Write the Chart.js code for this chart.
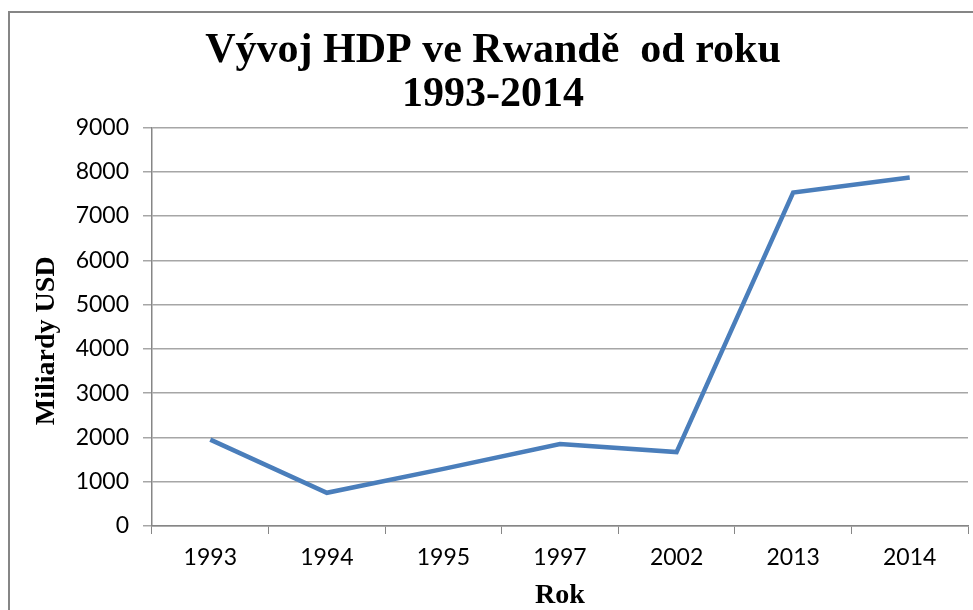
<!DOCTYPE html>
<html>
<head>
<meta charset="utf-8">
<script src="https://cdn.jsdelivr.net/npm/chart.js@4/dist/chart.umd.min.js"></script>
<style>
html,body{margin:0;padding:0;background:#fff;}
#wrap{width:973px;height:610px;position:relative;}
</style>
</head>
<body>
<div id="wrap"><canvas id="c" width="973" height="610"></canvas></div>
<script>
const titleLines = ['Vývoj HDP ve Rwandě  od roku', '1993-2014'];
const years = ['1993', '1994', '1995', '1997', '2002', '2013', '2014'];
const gdpValues = [1950, 750, 1290, 1850, 1670, 7530, 7870];
const yTitle = 'Miliardy USD    ';
const xTitle = 'Rok';

const frame = {
  id: 'frame',
  beforeDraw(chart) {
    const ctx = chart.ctx;
    ctx.save();
    ctx.fillStyle = '#ffffff';
    ctx.fillRect(0, 0, chart.width, chart.height);
    ctx.strokeStyle = '#868686';
    ctx.lineWidth = 2;
    ctx.strokeRect(9, 12, 1200, 1200);
    ctx.restore();
  }
};

new Chart(document.getElementById('c'), {
  type: 'line',
  data: {
    labels: years,
    datasets: [{
      data: gdpValues,
      borderColor: '#4a7ebb',
      borderWidth: 4.5,
      pointRadius: 0,
      tension: 0,
      fill: false
    }]
  },
  options: {
    responsive: false,
    animation: false,
    layout: { padding: { left: 18, right: 5, top: 0, bottom: 0 } },
    plugins: {
      legend: { display: false },
      tooltip: { enabled: false },
      title: {
        display: true,
        text: titleLines,
        color: '#000',
        font: { family: "'Liberation Serif', 'Times New Roman', serif", size: 42, weight: 'bold', lineHeight: 1.03 },
        padding: { top: 30, bottom: 11 }
      }
    },
    scales: {
      x: {
        offset: true,
        grid: { display: true, drawOnChartArea: false, drawTicks: true, tickLength: 8, color: '#868686', offset: true },
        border: { display: true, color: '#868686', width: 1.5 },
        ticks: { color: '#000', font: { family: "Lato, 'Open Sans', sans-serif", size: 23 }, padding: 10, maxRotation: 0 },
        title: { display: true, text: xTitle, color: '#000', font: { family: "'Liberation Serif', serif", size: 28, weight: 'bold', lineHeight: 1.0 }, padding: { top: 0, bottom: 0 } },
        afterFit(s) { s.height = 84; }
      },
      y: {
        min: 0, max: 9000,
        ticks: { stepSize: 1000, color: '#000', font: { family: "Lato, 'Open Sans', sans-serif", size: 23 }, padding: 14, format: { useGrouping: false } },
        grid: { color: '#a6a6a6', lineWidth: 1.5, tickLength: 9 },
        border: { display: true, color: '#868686', width: 1.5 },
        title: { display: true, text: yTitle, color: '#000', font: { family: "'Liberation Serif', serif", size: 28, weight: 'bold' }, padding: { top: 12, bottom: 0 } },
        afterFit(s) { s.width = 134; }
      }
    }
  },
  plugins: [frame]
});
</script>
</body>
</html>
